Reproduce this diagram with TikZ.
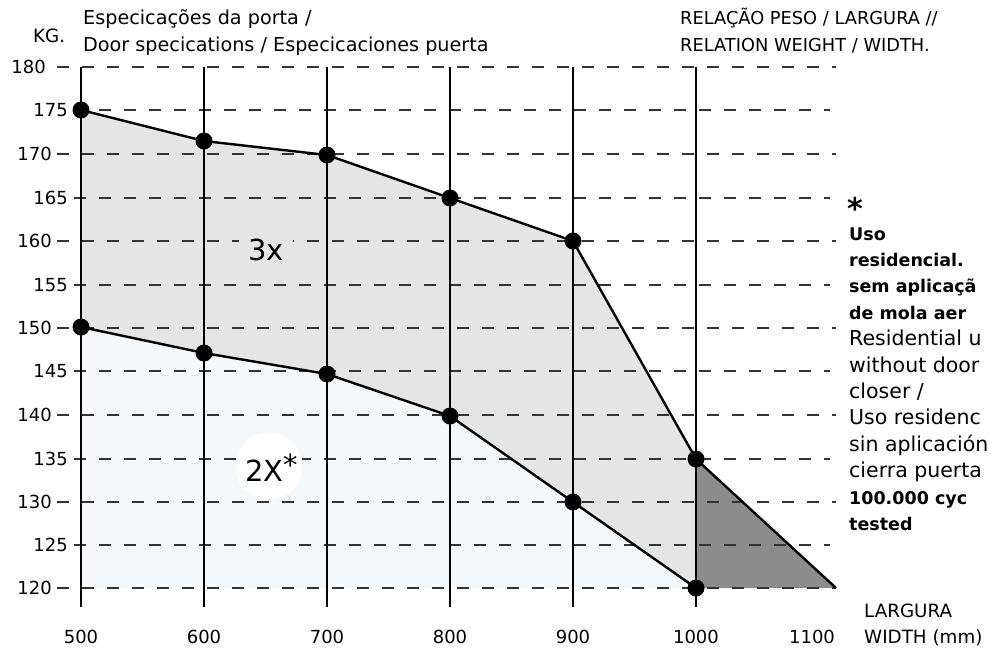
\documentclass[tikz,border=0pt]{standalone}
\usepackage{fontspec}
\setmainfont{DejaVu Sans}
\definecolor{lblue}{HTML}{F4F8FA}
\definecolor{lgray}{HTML}{E5E5E5}
\definecolor{dgray}{HTML}{8C8C8C}
\definecolor{gridc}{HTML}{333333}
\begin{document}
\begin{tikzpicture}[x=1pt,y=-1pt,
  txt/.style={inner sep=0pt,font=\fontsize{18}{20}\selectfont},
  ttl/.style={inner sep=0pt,anchor=base west,font=\fontsize{18.3}{20}\selectfont},
  rtxt/.style={inner sep=0pt,anchor=base west,font=\fontsize{20.5}{22}\selectfont},
  rbold/.style={inner sep=0pt,anchor=base west,font=\fontsize{17.5}{20}\selectfont\bfseries},
  gridline/.style={gridc,line width=1.1pt,dash pattern=on 12pt off 13pt},
  vline/.style={black,line width=1.2pt},
  edge/.style={black,line width=2.4pt,line join=round},
  dot/.style={circle,fill=black,minimum size=17pt,inner sep=0pt},
  big/.style={inner sep=0pt,font=\fontsize{29}{30}\selectfont}]
\useasboundingbox (0,0) rectangle (991,649);
% data points
\coordinate (u5) at (81,110);
\coordinate (u6) at (204,141);
\coordinate (u7) at (327,155);
\coordinate (u8) at (450,198);
\coordinate (u9) at (573,241);
\coordinate (u10) at (696,459);
\coordinate (l5) at (81,327);
\coordinate (l6) at (204,353);
\coordinate (l7) at (327,374);
\coordinate (l8) at (450,416);
\coordinate (l9) at (573,502);
\coordinate (l10) at (696,588);
\coordinate (tip) at (836,588);
% fills
\fill[lblue] (l5) -- (l6) -- (l7) -- (l8) -- (l9) -- (l10) -- (81,588) -- cycle;
\fill[lgray] (u5) -- (u6) -- (u7) -- (u8) -- (u9) -- (u10) -- (l10) -- (l9) -- (l8) -- (l7) -- (l6) -- (l5) -- cycle;
\fill[dgray] (u10) -- (tip) -- (l10) -- cycle;
% horizontal dashed grid
\foreach \k/\y/\lx in {180/67/46,170/154/52,160/241/52,150/328/52,140/415/52,130/502/52,120/588/52}{
  \coordinate (ga\k) at (57,\y);
  \coordinate (gb\k) at (836,\y);
  \draw[gridline] (ga\k) -- (gb\k);
  \node[txt,anchor=east] (t\k) at (\lx,\y) {\k};
}
\foreach \k/\y in {175/110,165/198,155/285,145/371,135/459,125/545}{
  \coordinate (ga\k) at (74,\y);
  \coordinate (gb\k) at (830,\y);
  \draw[gridline] (ga\k) -- (gb\k);
  \node[txt,anchor=east] (t\k) at (68,\y) {\k};
}
% verticals
\foreach \w/\x in {500/81,600/204,700/327,800/450,900/573,1000/696}{
  \coordinate (va\w) at (\x,67);
  \coordinate (vb\w) at (\x,607);
  \draw[vline] (va\w) -- (vb\w);
  \node[txt,anchor=base] (x\w) at (\x,643) {\w};
}
\node[txt,anchor=base] (x1100) at (812,643) {1100};
% area labels
\node[big,fill=lgray,inner xsep=9pt,inner ysep=4pt] (lab3) at (266,250) {3x};
\fill[white] (269,466) circle (33.5);
\node[big,anchor=base west] (lab2) at (245,481) {2X\raisebox{6pt}{*}};
% boundary lines
\draw[edge] (u5) -- (u6) -- (u7) -- (u8) -- (u9) -- (u10) -- (tip);
\draw[edge] (l5) -- (l6) -- (l7) -- (l8) -- (l9) -- (l10);
% dots
\foreach \p in {u5,u6,u7,u8,u9,u10,l5,l6,l7,l8,l9,l10}{
  \node[dot] (d\p) at (\p) {};
}
% titles
\node[ttl] (kg) at (33,42) {KG.};
\node[ttl,font=\fontsize{19.2}{20}\selectfont] (tt1) at (83,24) {Especicações da porta /};
\node[ttl,font=\fontsize{19.2}{20}\selectfont] (tt2) at (83,51) {Door specications / Especicaciones puerta};
\node[ttl,font=\fontsize{17.8}{20}\selectfont] (tr1) at (680,24) {RELAÇÃO PESO / LARGURA //};
\node[ttl,font=\fontsize{17.8}{20}\selectfont] (tr2) at (680,51) {RELATION WEIGHT / WIDTH.};
\node[ttl] (wl1) at (864,617) {LARGURA};
\node[ttl] (wl2) at (864,643) {WIDTH (mm)};
% side note, as far as the picture shows it
\node[inner sep=0pt,anchor=base west,font=\fontsize{30}{30}\selectfont\bfseries] (ast) at (847,219) {*};
\node[rbold] (n1) at (849,240) {Uso};
\node[rbold] (n2) at (849,266.4) {residencial.};
\node[rbold] (n3) at (849,292.8) {sem aplicaçã};
\node[rbold] (n4) at (849,319.2) {de mola aer};
\node[rtxt] (n5) at (849,345.6) {Residential u};
\node[rtxt] (n6) at (849,372) {without door};
\node[rtxt] (n7) at (849,398.4) {closer /};
\node[rtxt] (n8) at (849,424.8) {Uso residenc};
\node[rtxt] (n9) at (849,451.2) {sin aplicación};
\node[rtxt] (n10) at (849,477.6) {cierra puerta};
\node[rbold] (n11) at (849,504) {100.000 cyc};
\node[rbold] (n12) at (849,530.4) {tested};
\end{tikzpicture}
\end{document}
